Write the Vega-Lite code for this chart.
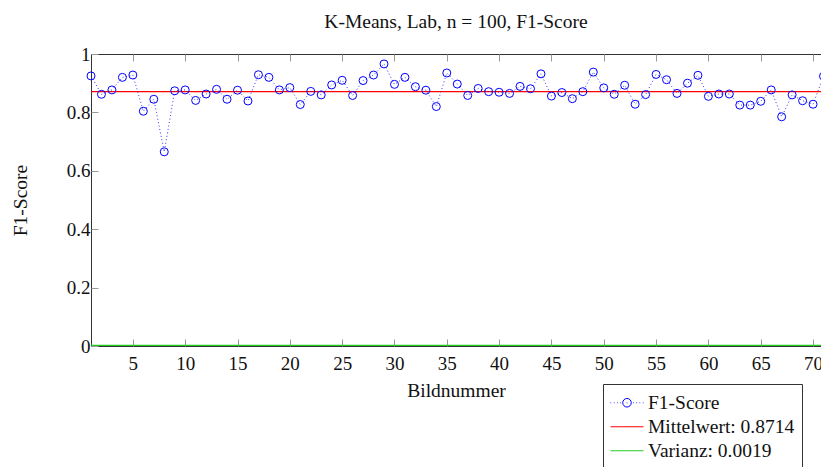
{
  "$schema": "https://vega.github.io/schema/vega-lite/v6.json",
  "width": 730,
  "height": 292,
  "autosize": {"type": "none"},
  "padding": {"left": 91, "top": 54, "right": 0, "bottom": 121},
  "background": "white",
  "config": {
    "font": "Liberation Serif, serif",
    "view": {"stroke": "#333", "strokeWidth": 1},
    "axis": {
      "labelFont": "Liberation Serif, serif",
      "titleFont": "Liberation Serif, serif",
      "labelFontSize": 19,
      "titleFontSize": 19.5,
      "titleFontWeight": "normal",
      "labelColor": "#111",
      "titleColor": "#111",
      "grid": false,
      "domain": false,
      "tickColor": "#999",
      "tickWidth": 1
    }
  },
  "title": {
    "text": "K-Means, Lab, n = 100, F1-Score",
    "font": "Liberation Serif, serif",
    "fontSize": 19.5,
    "fontWeight": "normal",
    "color": "#111",
    "offset": 13
  },
  "datasets": {
    "scores": [
      {"bild": 1, "f1": 0.925}, {"bild": 2, "f1": 0.862}, {"bild": 3, "f1": 0.877}, {"bild": 4, "f1": 0.920},
      {"bild": 5, "f1": 0.928}, {"bild": 6, "f1": 0.804}, {"bild": 7, "f1": 0.845}, {"bild": 8, "f1": 0.665},
      {"bild": 9, "f1": 0.874}, {"bild": 10, "f1": 0.877}, {"bild": 11, "f1": 0.841}, {"bild": 12, "f1": 0.863},
      {"bild": 13, "f1": 0.879}, {"bild": 14, "f1": 0.845}, {"bild": 15, "f1": 0.876}, {"bild": 16, "f1": 0.839},
      {"bild": 17, "f1": 0.929}, {"bild": 18, "f1": 0.920}, {"bild": 19, "f1": 0.877}, {"bild": 20, "f1": 0.885},
      {"bild": 21, "f1": 0.827}, {"bild": 22, "f1": 0.872}, {"bild": 23, "f1": 0.860}, {"bild": 24, "f1": 0.894},
      {"bild": 25, "f1": 0.910}, {"bild": 26, "f1": 0.858}, {"bild": 27, "f1": 0.909}, {"bild": 28, "f1": 0.928},
      {"bild": 29, "f1": 0.966}, {"bild": 30, "f1": 0.896}, {"bild": 31, "f1": 0.920}, {"bild": 32, "f1": 0.888},
      {"bild": 33, "f1": 0.876}, {"bild": 34, "f1": 0.820}, {"bild": 35, "f1": 0.935}, {"bild": 36, "f1": 0.897},
      {"bild": 37, "f1": 0.858}, {"bild": 38, "f1": 0.882}, {"bild": 39, "f1": 0.871}, {"bild": 40, "f1": 0.869},
      {"bild": 41, "f1": 0.865}, {"bild": 42, "f1": 0.889}, {"bild": 43, "f1": 0.881}, {"bild": 44, "f1": 0.932},
      {"bild": 45, "f1": 0.856}, {"bild": 46, "f1": 0.868}, {"bild": 47, "f1": 0.847}, {"bild": 48, "f1": 0.871},
      {"bild": 49, "f1": 0.938}, {"bild": 50, "f1": 0.884}, {"bild": 51, "f1": 0.862}, {"bild": 52, "f1": 0.893},
      {"bild": 53, "f1": 0.828}, {"bild": 54, "f1": 0.861}, {"bild": 55, "f1": 0.930}, {"bild": 56, "f1": 0.912},
      {"bild": 57, "f1": 0.865}, {"bild": 58, "f1": 0.900}, {"bild": 59, "f1": 0.927}, {"bild": 60, "f1": 0.855},
      {"bild": 61, "f1": 0.863}, {"bild": 62, "f1": 0.863}, {"bild": 63, "f1": 0.825}, {"bild": 64, "f1": 0.825},
      {"bild": 65, "f1": 0.838}, {"bild": 66, "f1": 0.877}, {"bild": 67, "f1": 0.785}, {"bild": 68, "f1": 0.860},
      {"bild": 69, "f1": 0.840}, {"bild": 70, "f1": 0.828}, {"bild": 71, "f1": 0.924}
    ],
    "stats": [
      {"series": "Mittelwert: 0.8714", "value": 0.8714},
      {"series": "Varianz: 0.0019", "value": 0.0019}
    ]
  },
  "resolve": {"axis": {"x": "independent"}},
  "layer": [
    {
      "data": {"name": "stats"},
      "mark": {"type": "rule", "strokeWidth": 1.2},
      "encoding": {
        "y": {"field": "value", "type": "quantitative", "scale": {"domain": [0, 1]}},
        "color": {
          "field": "series",
          "type": "nominal",
          "scale": {
            "domain": ["F1-Score", "Mittelwert: 0.8714", "Varianz: 0.0019"],
            "range": ["#0000ff", "#ff0000", "#22cc22"]
          },
          "legend": {
            "title": null,
            "orient": "none",
            "legendX": 512,
            "legendY": 330,
            "direction": "vertical",
            "strokeColor": "#333",
            "fillColor": "white",
            "padding": 7,
            "symbolSize": 1089,
            "clipHeight": 23.5,
            "rowPadding": 0,
            "labelOffset": 4,
            "labelFont": "Liberation Serif, serif",
            "labelFontSize": 19.5,
            "labelColor": "#111",
            "labelLimit": 400,
            "symbolStrokeWidth": 1,
            "encode": {
              "symbols": {
                "update": {
                  "shape": {"signal": "datum.value === 'F1-Score' ? 'M-1,0h0.04M-0.8,0h0.04M-0.6,0h0.04M-0.42,0h0.04M0.38,0h0.04M0.56,0h0.04M0.76,0h0.04M0.96,0h0.04M-0.02,0h0.04M0.26,0A0.26,0.26,0,1,1,-0.26,0A0.26,0.26,0,1,1,0.26,0Z' : 'stroke'"},
                  "fill": {"value": "transparent"},
                  "opacity": {"value": 1}
                }
              }
            }
          }
        }
      }
    },
    {
      "data": {"name": "scores"},
      "mark": {"type": "line", "color": "#0000ff", "strokeWidth": 1, "strokeDash": [1, 2.5], "opacity": 0.8},
      "encoding": {
        "x": {
          "field": "bild",
          "type": "quantitative",
          "scale": {"domain": [1, 70.76], "nice": false, "zero": false},
          "axis": {"orient": "top", "values": [5, 10, 15, 20, 25, 30, 35, 40, 45, 50, 55, 60, 65, 70], "labels": false, "tickSize": 7, "title": null, "offset": -7}
        },
        "y": {"field": "f1", "type": "quantitative"}
      }
    },
    {
      "data": {"name": "scores"},
      "mark": {"type": "point", "shape": "circle", "filled": false, "size": 64, "strokeWidth": 1, "opacity": 1},
      "encoding": {
        "x": {
          "field": "bild",
          "type": "quantitative",
          "axis": {"orient": "bottom", "values": [5, 10, 15, 20, 25, 30, 35, 40, 45, 50, 55, 60, 65, 70], "tickSize": -7, "labelPadding": 15, "title": "Bildnummer", "titlePadding": 8}
        },
        "y": {
          "field": "f1",
          "type": "quantitative",
          "axis": {"orient": "left", "values": [0, 0.2, 0.4, 0.6, 0.8, 1], "format": "~g", "tickSize": -7, "labelPadding": 8, "title": "F1-Score", "titlePadding": 36}
        },
        "color": {"datum": "F1-Score"}
      }
    }
  ]
}
